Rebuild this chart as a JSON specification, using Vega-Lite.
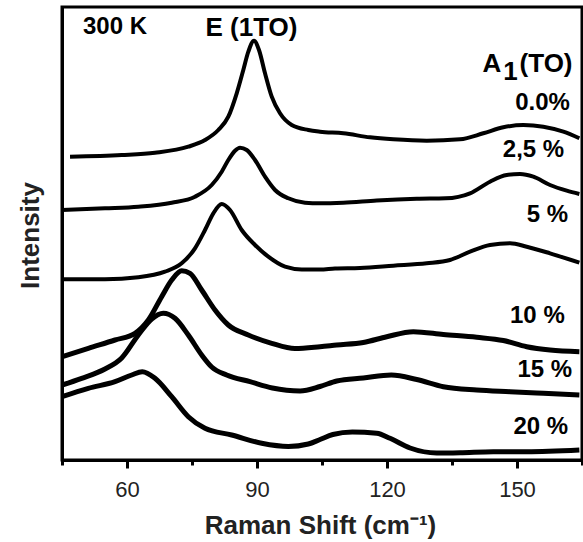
{
  "$schema": "https://vega.github.io/schema/vega-lite/v6.json",
  "autosize": {"type": "none"},
  "width": 520,
  "height": 453,
  "padding": {"left": 62, "top": 7, "right": 1, "bottom": 82},
  "background": "white",
  "config": {
    "view": {"stroke": "black", "strokeWidth": 3},
    "font": "Liberation Sans"
  },
  "datasets": {
    "spectra": [
      {"series": "0.0%", "shift": 46.85, "intensity": 303.3},
      {"series": "0.0%", "shift": 58.78, "intensity": 305},
      {"series": "0.0%", "shift": 66.46, "intensity": 307.3},
      {"series": "0.0%", "shift": 74.15, "intensity": 313.3},
      {"series": "0.0%", "shift": 78.0, "intensity": 320},
      {"series": "0.0%", "shift": 81.07, "intensity": 330},
      {"series": "0.0%", "shift": 83.38, "intensity": 343.3},
      {"series": "0.0%", "shift": 85.32, "intensity": 366.7},
      {"series": "0.0%", "shift": 86.84, "intensity": 390},
      {"series": "0.0%", "shift": 88.0, "intensity": 408.3},
      {"series": "0.0%", "shift": 89.31, "intensity": 419.3},
      {"series": "0.0%", "shift": 90.46, "intensity": 410},
      {"series": "0.0%", "shift": 91.85, "intensity": 386.7},
      {"series": "0.0%", "shift": 93.4, "intensity": 363.3},
      {"series": "0.0%", "shift": 95.31, "intensity": 346.7},
      {"series": "0.0%", "shift": 98.01, "intensity": 335},
      {"series": "0.0%", "shift": 101.84, "intensity": 330},
      {"series": "0.0%", "shift": 104.54, "intensity": 328.3},
      {"series": "0.0%", "shift": 109.92, "intensity": 326.7},
      {"series": "0.0%", "shift": 116.08, "intensity": 322.7},
      {"series": "0.0%", "shift": 121.46, "intensity": 320.7},
      {"series": "0.0%", "shift": 129.17, "intensity": 319.3},
      {"series": "0.0%", "shift": 136.85, "intensity": 320.7},
      {"series": "0.0%", "shift": 142.23, "intensity": 326.7},
      {"series": "0.0%", "shift": 146.85, "intensity": 332.7},
      {"series": "0.0%", "shift": 151.46, "intensity": 335},
      {"series": "0.0%", "shift": 156.08, "intensity": 333.3},
      {"series": "0.0%", "shift": 160.7, "intensity": 328.3},
      {"series": "0.0%", "shift": 164.39, "intensity": 321.7},

      {"series": "2,5 %", "shift": 45.0, "intensity": 250},
      {"series": "2,5 %", "shift": 54.92, "intensity": 251.7},
      {"series": "2,5 %", "shift": 62.61, "intensity": 253.3},
      {"series": "2,5 %", "shift": 70.32, "intensity": 257.3},
      {"series": "2,5 %", "shift": 75.69, "intensity": 263.3},
      {"series": "2,5 %", "shift": 79.55, "intensity": 275},
      {"series": "2,5 %", "shift": 81.86, "intensity": 288.3},
      {"series": "2,5 %", "shift": 83.38, "intensity": 300},
      {"series": "2,5 %", "shift": 84.93, "intensity": 309.3},
      {"series": "2,5 %", "shift": 86.08, "intensity": 312.3},
      {"series": "2,5 %", "shift": 87.63, "intensity": 310},
      {"series": "2,5 %", "shift": 89.54, "intensity": 300},
      {"series": "2,5 %", "shift": 91.85, "intensity": 283.3},
      {"series": "2,5 %", "shift": 94.16, "intensity": 270},
      {"series": "2,5 %", "shift": 97.23, "intensity": 261.7},
      {"series": "2,5 %", "shift": 101.08, "intensity": 257.3},
      {"series": "2,5 %", "shift": 104.54, "intensity": 256.7},
      {"series": "2,5 %", "shift": 109.92, "intensity": 257.3},
      {"series": "2,5 %", "shift": 117.63, "intensity": 259.5},
      {"series": "2,5 %", "shift": 126.86, "intensity": 261.2},
      {"series": "2,5 %", "shift": 133.5, "intensity": 261.7},
      {"series": "2,5 %", "shift": 139.16, "intensity": 266.7},
      {"series": "2,5 %", "shift": 143.77, "intensity": 278.3},
      {"series": "2,5 %", "shift": 147.63, "intensity": 285},
      {"series": "2,5 %", "shift": 150.7, "intensity": 286},
      {"series": "2,5 %", "shift": 153.77, "intensity": 283.3},
      {"series": "2,5 %", "shift": 157.62, "intensity": 275},
      {"series": "2,5 %", "shift": 161.48, "intensity": 269.3},
      {"series": "2,5 %", "shift": 164.39, "intensity": 266},

      {"series": "5 %", "shift": 45.0, "intensity": 180.7},
      {"series": "5 %", "shift": 54.92, "intensity": 180.7},
      {"series": "5 %", "shift": 62.61, "intensity": 182.7},
      {"series": "5 %", "shift": 68.77, "intensity": 188.3},
      {"series": "5 %", "shift": 72.62, "intensity": 196.7},
      {"series": "5 %", "shift": 75.69, "intensity": 211.7},
      {"series": "5 %", "shift": 78.0, "intensity": 230},
      {"series": "5 %", "shift": 79.92, "intensity": 246.7},
      {"series": "5 %", "shift": 81.86, "intensity": 256},
      {"series": "5 %", "shift": 83.77, "intensity": 250},
      {"series": "5 %", "shift": 86.47, "intensity": 230},
      {"series": "5 %", "shift": 89.54, "intensity": 215},
      {"series": "5 %", "shift": 92.61, "intensity": 203.3},
      {"series": "5 %", "shift": 96.47, "intensity": 193.3},
      {"series": "5 %", "shift": 100.32, "intensity": 190.5},
      {"series": "5 %", "shift": 104.54, "intensity": 190.5},
      {"series": "5 %", "shift": 108.0, "intensity": 191.5},
      {"series": "5 %", "shift": 113.77, "intensity": 192},
      {"series": "5 %", "shift": 121.46, "intensity": 194.3},
      {"series": "5 %", "shift": 129.17, "intensity": 196.7},
      {"series": "5 %", "shift": 134.54, "intensity": 200},
      {"series": "5 %", "shift": 139.16, "intensity": 208.3},
      {"series": "5 %", "shift": 143.77, "intensity": 215},
      {"series": "5 %", "shift": 148.39, "intensity": 216.7},
      {"series": "5 %", "shift": 152.24, "intensity": 213.3},
      {"series": "5 %", "shift": 157.62, "intensity": 206.7},
      {"series": "5 %", "shift": 164.39, "intensity": 197.3},

      {"series": "10 %", "shift": 45.0, "intensity": 103.3},
      {"series": "10 %", "shift": 51.07, "intensity": 111.7},
      {"series": "10 %", "shift": 57.23, "intensity": 120},
      {"series": "10 %", "shift": 61.85, "intensity": 126.7},
      {"series": "10 %", "shift": 64.92, "intensity": 140},
      {"series": "10 %", "shift": 68.0, "intensity": 163.3},
      {"series": "10 %", "shift": 70.32, "intensity": 180},
      {"series": "10 %", "shift": 72.62, "intensity": 189.3},
      {"series": "10 %", "shift": 74.54, "intensity": 186.7},
      {"series": "10 %", "shift": 77.24, "intensity": 170},
      {"series": "10 %", "shift": 80.31, "intensity": 150},
      {"series": "10 %", "shift": 83.38, "intensity": 135},
      {"series": "10 %", "shift": 87.99, "intensity": 125},
      {"series": "10 %", "shift": 93.4, "intensity": 116.7},
      {"series": "10 %", "shift": 98.77, "intensity": 111.5},
      {"series": "10 %", "shift": 104.54, "intensity": 113.3},
      {"series": "10 %", "shift": 108.4, "intensity": 115},
      {"series": "10 %", "shift": 114.53, "intensity": 117.5},
      {"series": "10 %", "shift": 119.94, "intensity": 123.3},
      {"series": "10 %", "shift": 126.08, "intensity": 128.3},
      {"series": "10 %", "shift": 133.0, "intensity": 125.5},
      {"series": "10 %", "shift": 140.71, "intensity": 122.7},
      {"series": "10 %", "shift": 146.85, "intensity": 119.5},
      {"series": "10 %", "shift": 152.24, "intensity": 113.3},
      {"series": "10 %", "shift": 157.62, "intensity": 110},
      {"series": "10 %", "shift": 164.39, "intensity": 108.3},

      {"series": "15 %", "shift": 45.0, "intensity": 75},
      {"series": "15 %", "shift": 49.55, "intensity": 81.7},
      {"series": "15 %", "shift": 54.92, "intensity": 91},
      {"series": "15 %", "shift": 58.78, "intensity": 102},
      {"series": "15 %", "shift": 62.61, "intensity": 125},
      {"series": "15 %", "shift": 65.7, "intensity": 141},
      {"series": "15 %", "shift": 68.38, "intensity": 146.7},
      {"series": "15 %", "shift": 71.08, "intensity": 141.7},
      {"series": "15 %", "shift": 74.15, "intensity": 125},
      {"series": "15 %", "shift": 77.24, "intensity": 105},
      {"series": "15 %", "shift": 79.55, "intensity": 93},
      {"series": "15 %", "shift": 83.0, "intensity": 85},
      {"series": "15 %", "shift": 88.39, "intensity": 78.3},
      {"series": "15 %", "shift": 93.55, "intensity": 72},
      {"series": "15 %", "shift": 99.93, "intensity": 69},
      {"series": "15 %", "shift": 104.54, "intensity": 73.5},
      {"series": "15 %", "shift": 108.4, "intensity": 79},
      {"series": "15 %", "shift": 114.53, "intensity": 82},
      {"series": "15 %", "shift": 121.0, "intensity": 85},
      {"series": "15 %", "shift": 126.86, "intensity": 80.5},
      {"series": "15 %", "shift": 133.0, "intensity": 73.3},
      {"series": "15 %", "shift": 140.71, "intensity": 70},
      {"series": "15 %", "shift": 148.39, "intensity": 68.3},
      {"series": "15 %", "shift": 156.08, "intensity": 66.7},
      {"series": "15 %", "shift": 164.39, "intensity": 65},

      {"series": "20 %", "shift": 45.0, "intensity": 63.3},
      {"series": "20 %", "shift": 51.07, "intensity": 71.7},
      {"series": "20 %", "shift": 57.23, "intensity": 78.3},
      {"series": "20 %", "shift": 61.09, "intensity": 85},
      {"series": "20 %", "shift": 63.53, "intensity": 88.3},
      {"series": "20 %", "shift": 66.46, "intensity": 81.7},
      {"series": "20 %", "shift": 70.32, "intensity": 63.3},
      {"series": "20 %", "shift": 74.15, "intensity": 43.3},
      {"series": "20 %", "shift": 78.0, "intensity": 31.7},
      {"series": "20 %", "shift": 84.16, "intensity": 25},
      {"series": "20 %", "shift": 91.09, "intensity": 16.7},
      {"series": "20 %", "shift": 97.23, "intensity": 13.5},
      {"series": "20 %", "shift": 101.84, "intensity": 16},
      {"series": "20 %", "shift": 104.54, "intensity": 20.5},
      {"series": "20 %", "shift": 107.5, "intensity": 25.5},
      {"series": "20 %", "shift": 112.0, "intensity": 28},
      {"series": "20 %", "shift": 117.63, "intensity": 26.7},
      {"series": "20 %", "shift": 120.7, "intensity": 21.7},
      {"series": "20 %", "shift": 125.32, "intensity": 12},
      {"series": "20 %", "shift": 131.48, "intensity": 7},
      {"series": "20 %", "shift": 136.85, "intensity": 7.3},
      {"series": "20 %", "shift": 144.53, "intensity": 8.3},
      {"series": "20 %", "shift": 152.24, "intensity": 8.3},
      {"series": "20 %", "shift": 164.39, "intensity": 10}
    ],
    "labels": [
      {"label": "300 K", "shift": 57.23, "intensity": 433, "size": "m"},
      {"label": "E (1TO)", "shift": 88.73, "intensity": 432, "size": "l"},
      {"label": "0.0%", "shift": 155.9, "intensity": 357.5, "size": "m"},
      {"label": "2,5 %", "shift": 153.8, "intensity": 310, "size": "m"},
      {"label": "5 %", "shift": 157.0, "intensity": 245, "size": "m"},
      {"label": "10 %", "shift": 154.7, "intensity": 144, "size": "m"},
      {"label": "15 %", "shift": 156.4, "intensity": 90, "size": "m"},
      {"label": "20 %", "shift": 155.5, "intensity": 33, "size": "m"},
      {"label": "A", "shift": 144.2, "intensity": 396.5, "size": "l"},
      {"label": "1", "shift": 148.5, "intensity": 388.5, "size": "l"},
      {"label": "(TO)", "shift": 156.7, "intensity": 396, "size": "l"}
    ]
  },
  "encoding": {
    "x": {
      "field": "shift",
      "type": "quantitative",
      "scale": {"domain": [45, 165], "nice": false, "zero": false},
      "axis": {
        "title": "Raman Shift (cm⁻¹)",
        "values": [45, 60, 75, 90, 105, 120, 135, 150, 165],
        "labelExpr": "datum.value % 30 == 0 ? datum.label : ''",
        "grid": false,
        "domainColor": "black",
        "domainWidth": 3,
        "tickColor": "black",
        "tickWidth": 3,
        "tickSize": {"condition": {"test": "datum.value % 30 == 0", "value": 8}, "value": 5},
        "labelFont": "Liberation Sans",
        "labelFontSize": 22,
        "labelColor": "#222222",
        "labelPadding": 11,
        "labelFlush": false,
        "labelOverlap": false,
        "titleFont": "Liberation Sans",
        "titleFontSize": 26,
        "titleFontWeight": "bold",
        "titleColor": "#222222",
        "titleX": 258,
        "titleY": 73,
        "titleBaseline": "alphabetic",
        "titleAlign": "center"
      }
    },
    "y": {
      "field": "intensity",
      "type": "quantitative",
      "scale": {"domain": [0, 453], "nice": false, "zero": false},
      "axis": {
        "title": "Intensity",
        "ticks": false,
        "labels": false,
        "grid": false,
        "domainColor": "black",
        "domainWidth": 3,
        "titleFont": "Liberation Sans",
        "titleFontSize": 26,
        "titleFontWeight": "bold",
        "titleColor": "#222222",
        "titleX": -32,
        "titleY": 228,
        "titleAngle": -90,
        "titleBaseline": "middle",
        "titleAlign": "center"
      }
    }
  },
  "layer": [
    {
      "data": {"name": "spectra"},
      "transform": [{"filter": "datum.series == '0.0%' || datum.series == '2,5 %' || datum.series == '5 %'"}],
      "mark": {"type": "line", "color": "black", "strokeWidth": 4, "interpolate": "monotone"},
      "encoding": {"detail": {"field": "series"}}
    },
    {
      "data": {"name": "spectra"},
      "transform": [{"filter": "datum.series == '10 %' || datum.series == '15 %' || datum.series == '20 %'"}],
      "mark": {"type": "line", "color": "black", "strokeWidth": 5, "interpolate": "monotone"},
      "encoding": {"detail": {"field": "series"}}
    },
    {
      "data": {"name": "labels"},
      "transform": [{"filter": "datum.size == 'm'"}],
      "mark": {"type": "text", "font": "Liberation Sans", "fontWeight": "bold", "fontSize": 24, "align": "center", "baseline": "middle", "color": "black"},
      "encoding": {"text": {"field": "label"}}
    },
    {
      "data": {"name": "labels"},
      "transform": [{"filter": "datum.size == 'l'"}],
      "mark": {"type": "text", "font": "Liberation Sans", "fontWeight": "bold", "fontSize": 26, "align": "center", "baseline": "middle", "color": "black"},
      "encoding": {"text": {"field": "label"}}
    }
  ]
}
